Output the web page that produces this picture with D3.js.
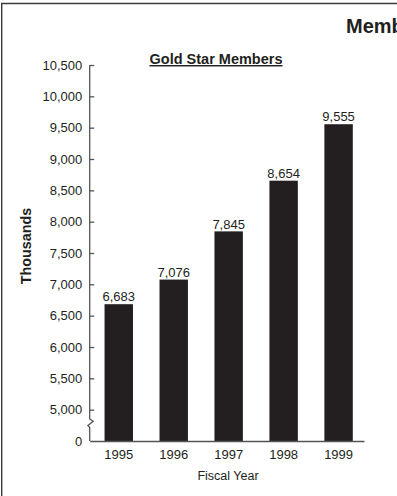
<!DOCTYPE html>
<html>
<head>
<meta charset="utf-8">
<script src="https://cdn.jsdelivr.net/npm/d3@7"></script>
<style>
  html, body { margin: 0; padding: 0; background: #fff; }
  svg { display: block; font-family: "Liberation Sans", Arial, Helvetica, sans-serif; }
</style>
</head>
<body>
<svg id="chart" width="397" height="496"></svg>
<script>
// Gold Star membership by fiscal year (thousands)
const years = ["1995", "1996", "1997", "1998", "1999"];
const members = [6683, 7076, 7845, 8654, 9555];
// Tick values on the broken value axis; the lowest one stands for zero
const yTicks = [4500, 5000, 5500, 6000, 6500, 7000, 7500, 8000, 8500, 9000, 9500, 10000, 10500];
const pageTitle = "Membership";
const chartTitle = "Gold Star Members";
const yTitle = "Thousands";
const xTitle = "Fiscal Year";

const ink = "#231f20";
const axisInk = "#555557";

const svg = d3.select("#chart");

// Page frame (runs off to the right and bottom)
svg.append("path")
  .attr("d", "M1.7,520 V3.5 H420")
  .attr("fill", "none")
  .attr("stroke", "#3a3a3a")
  .attr("stroke-width", 1.4);

// Page heading, running past the right page edge
svg.append("text")
  .attr("x", 346).attr("y", 32.5)
  .attr("font-size", 20).attr("font-weight", "bold")
  .attr("fill", ink)
  .text(pageTitle);

const axisX = 89.7;
const x = d3.scaleBand()
  .domain(years)
  .range([axisX, 364])
  .paddingInner(0.483)
  .paddingOuter(0.237)
  .align(0.57);

const y = d3.scaleLinear()
  .domain([4500, 10500])
  .range([441, 65]);

// Bars
svg.append("g").selectAll("rect")
  .data(members)
  .join("rect")
  .attr("x", (d, i) => x(years[i]))
  .attr("width", x.bandwidth())
  .attr("y", d => y(d))
  .attr("height", d => y(4500) - y(d))
  .attr("fill", ink);

// Value labels above the bars
svg.append("g").selectAll("text")
  .data(members)
  .join("text")
  .attr("x", (d, i) => x(years[i]) + x.bandwidth() / 2)
  .attr("y", d => y(d) - 2.8)
  .attr("text-anchor", "middle")
  .attr("font-size", 13)
  .attr("fill", ink)
  .text(d => d3.format(",")(d));

// Value axis: ticks point into the plot, labels sit to the left
const yAxis = svg.append("g")
  .attr("transform", `translate(${axisX},0)`)
  .call(d3.axisLeft(y)
    .tickValues(yTicks)
    .tickSize(-4.5)
    .tickPadding(7.5)
    .tickFormat(d => d === 4500 ? "0" : d3.format(",")(d)));
yAxis.select(".domain").remove();
yAxis.selectAll(".tick line")
  .attr("stroke", axisInk)
  .attr("stroke-width", 1.3)
  .attr("opacity", d => d === 4500 ? 0 : 1);
yAxis.selectAll(".tick text")
  .attr("font-size", 13)
  .attr("fill", ink)
  .attr("font-family", "Liberation Sans, Arial, sans-serif");

// Axis spine with a zig-zag break between zero and the first tick
const brk = y(4500) - 22;
const spine = d3.path();
spine.moveTo(axisX, y(10500));
spine.lineTo(axisX, brk);
spine.lineTo(axisX + 3.5, brk + 2.3);
spine.lineTo(axisX - 1.8, brk + 6.5);
spine.lineTo(axisX, brk + 8.2);
spine.lineTo(axisX, y(4500));
svg.append("path")
  .attr("d", spine.toString())
  .attr("fill", "none")
  .attr("stroke", axisInk)
  .attr("stroke-width", 1.3);

// Category axis
const xAxis = svg.append("g")
  .attr("transform", `translate(0,${y(4500)})`)
  .call(d3.axisBottom(x).tickSize(0).tickSizeOuter(0).tickPadding(8.5));
xAxis.select(".domain")
  .attr("stroke", axisInk)
  .attr("stroke-width", 1.5);
xAxis.selectAll(".tick text")
  .attr("font-size", 13)
  .attr("fill", ink)
  .attr("font-family", "Liberation Sans, Arial, sans-serif");

// Chart title, underlined
svg.append("text")
  .attr("x", 216).attr("y", 64)
  .attr("text-anchor", "middle")
  .attr("font-size", 14.5).attr("font-weight", "bold")
  .attr("text-decoration", "underline")
  .attr("fill", ink)
  .text(chartTitle);

// Axis titles
svg.append("text")
  .attr("transform", "translate(31,246) rotate(-90)")
  .attr("text-anchor", "middle")
  .attr("font-size", 14.3).attr("font-weight", "bold")
  .attr("fill", ink)
  .text(yTitle);

svg.append("text")
  .attr("x", 228).attr("y", 480)
  .attr("text-anchor", "middle")
  .attr("font-size", 12.5)
  .attr("fill", ink)
  .text(xTitle);
</script>
</body>
</html>
